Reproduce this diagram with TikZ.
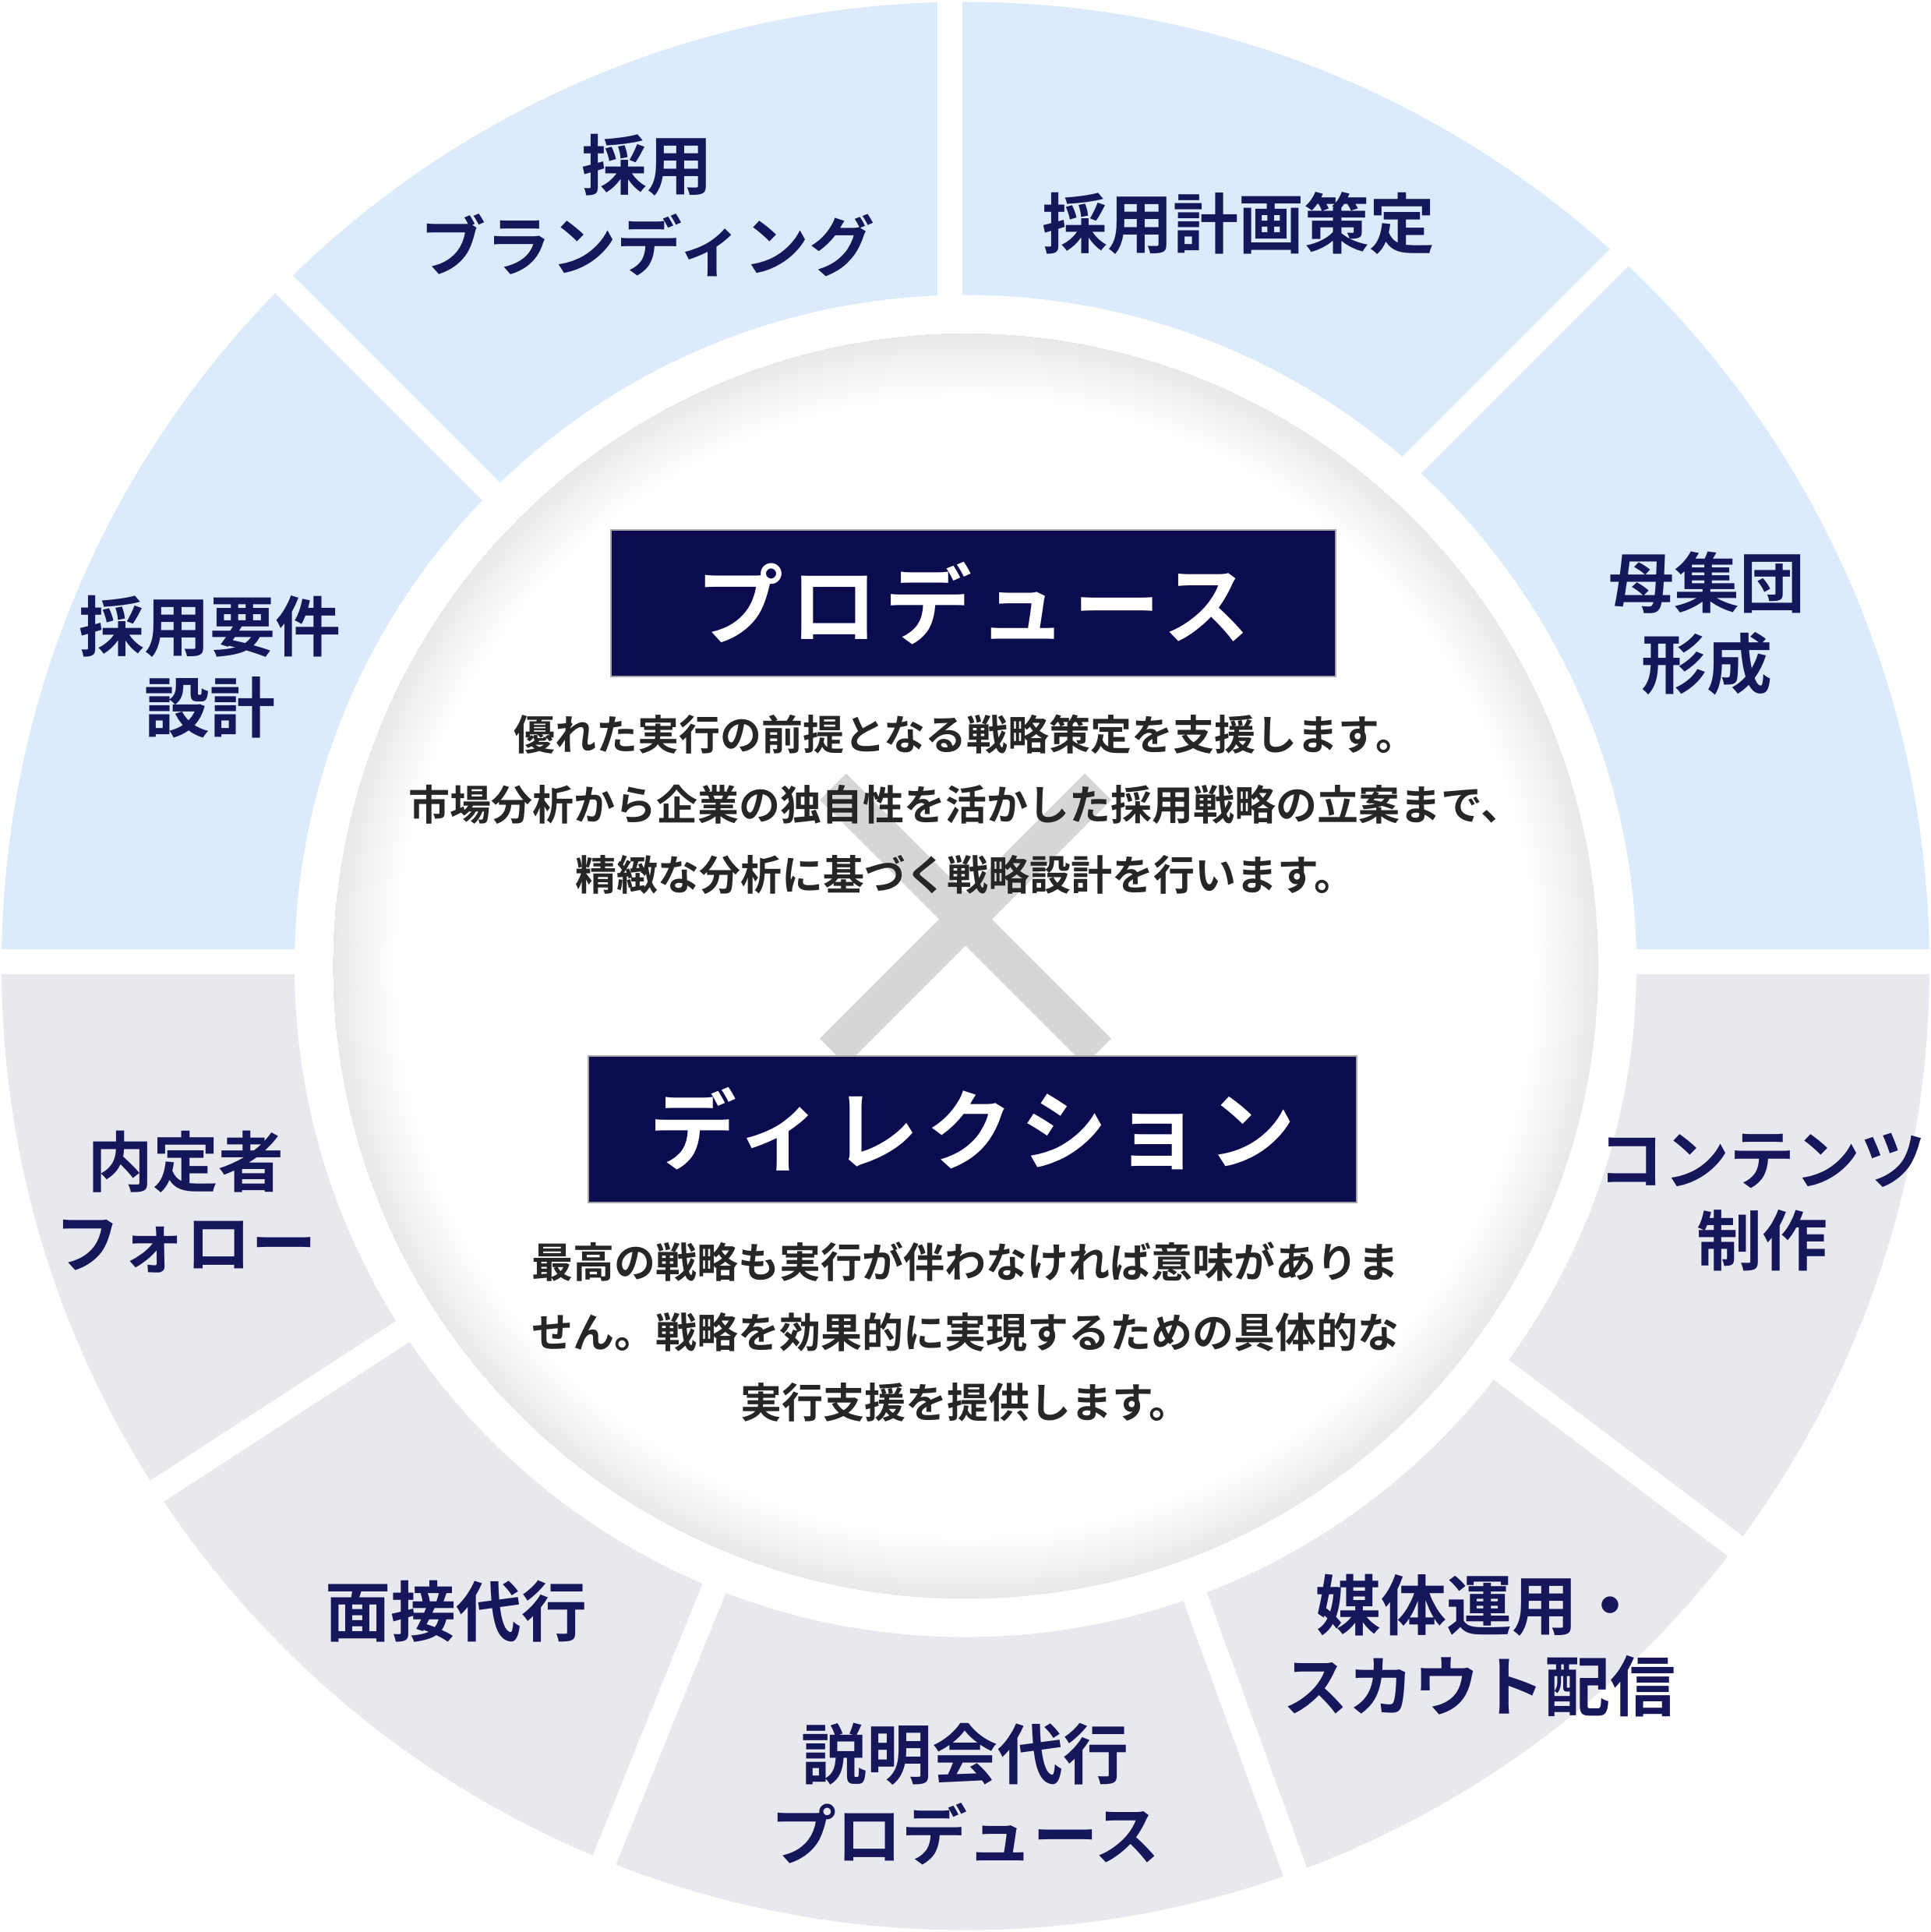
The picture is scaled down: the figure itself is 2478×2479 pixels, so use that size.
\documentclass[tikz,border=0pt]{standalone}
\usepackage{fontspec}
\usetikzlibrary{calc}
\setmainfont{Noto Sans CJK JP}[BoldFont={* Bold}]
\definecolor{segblue}{HTML}{DCEBFB}
\definecolor{seggray}{HTML}{E8E9EE}
\definecolor{navy}{HTML}{0A0C4E}
\definecolor{labnavy}{HTML}{15175A}
\definecolor{xgray}{HTML}{D6D6D6}
\pgfdeclareradialshading{glow}{\pgfpoint{0bp}{0bp}}{color(0bp)=(white); color(22.5bp)=(white); color(25bp)=(black!9)}
\tikzset{
  seglabel/.style={text=labnavy, font=\bfseries\fontsize{84}{104}\selectfont, align=center},
  para/.style={text=black!85, font=\bfseries\fontsize{53}{90}\selectfont, align=center},
  titlebox/.style={fill=navy, draw=black!35, line width=2pt, text=white, inner sep=0pt,
    font=\bfseries\fontsize{112}{112}\selectfont\addfontfeature{LetterSpace=8}},
  gapline/.style={white, line width=32pt}
}
\begin{document}
\begin{tikzpicture}[x=1pt,y=1pt]
\useasboundingbox (-1239,-1239.5) rectangle (1239,1239.5);
% ring halves
\fill[segblue] (1237,0) arc[start angle=0,end angle=180,radius=1237] -- (-861,0) arc[start angle=180,end angle=0,radius=861] -- cycle;
\fill[seggray] (1237,0) arc[start angle=0,end angle=-180,radius=1237] -- (-861,0) arc[start angle=-180,end angle=0,radius=861] -- cycle;
% gaps
\draw[gapline] (-1300,6) -- (1300,6);
\draw[gapline] (-20,800) -- (-20,1300);
\draw[gapline] ($(-35,35)+(45:780)$) -- ($(-35,35)+(45:1300)$);
\foreach \a in {135,-37,-70,-112,-147}
  \draw[gapline] (\a:840) -- (\a:1300);
% inner circle
\shade[shading=glow] (0,0) circle[radius=812];
% big X
\coordinate (xc) at (0,60);
\draw[xgray, line width=48pt] ($(xc)+(-170,170)$) -- ($(xc)+(170,-170)$);
\draw[xgray, line width=48pt] ($(xc)+(170,170)$) -- ($(xc)+(-170,-170)$);
% title boxes
\node[titlebox, minimum width=929pt, minimum height=188pt] (prod) at (10,465) {プロデュース};
\node[titlebox, minimum width=986pt, minimum height=188pt] (dir) at (9,-209) {ディレクション};
\node[para] (p1) at (0,207) {優れた実行の前提となる戦略策定を支援します。\\市場分析から企業の独自性を活かした採用戦略の立案まで、\\精緻な分析に基づく戦略設計を行います。};
\node[para] (p2) at (0,-469) {最高の戦略も実行が伴わなければ意味がありま\\せん。戦略を効果的に実現するための具体的な\\実行支援を提供します。};
% segment labels
\node[seglabel] (s1) at (-408,976) {採用\\ブランディング};
\node[seglabel] (s2) at (351,953) {採用計画策定};
\node[seglabel] (s3) at (951,439) {母集団\\形成};
\node[seglabel] (s4) at (-969,384) {採用要件\\設計};
\node[seglabel] (s5) at (1022,-303) {コンテンツ\\制作};
\node[seglabel] (s6) at (659,-872) {媒体運用・\\スカウト配信};
\node[seglabel] (s7) at (0,-1062) {説明会代行\\プロデュース};
\node[seglabel] (s8) at (-653,-828) {面接代行};
\node[seglabel] (s9) at (-1000,-303) {内定者\\フォロー};
\end{tikzpicture}
\end{document}
